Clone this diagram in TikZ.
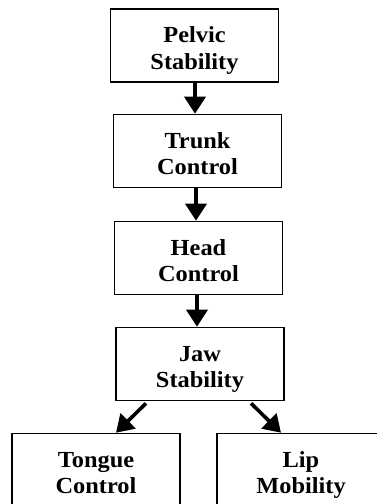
\documentclass[tikz,border=0pt]{standalone}
\usepackage{fontspec}
\setmainfont{Liberation Serif}[FakeStretch=1.06]
\usetikzlibrary{arrows.meta,calc}
% two centred lines with fixed struts so every box sets its text alike
\newcommand{\stagetext}[2]{\rule{0pt}{26.2pt}#1\\#2\rule[-5pt]{0pt}{5pt}}
\begin{document}
\begin{tikzpicture}[x=1pt,y=1pt,
  stagebox/.style={draw=black,line width=1.6pt,fill=white,
    minimum width=168pt,minimum height=73pt,inner sep=0pt,
    align=center,font=\fontsize{23}{26.5}\selectfont\bfseries},
  flow/.style={line width=3.6pt,-{Triangle[width=21pt,length=17pt]}}]
\useasboundingbox (0,0) rectangle (377,-504);
\clip (0,0) rectangle (377,-504);
% chain of stages
\node[stagebox] (pelvic) at (194.5,-45.5) {\stagetext{Pelvic}{Stability}};
\node[stagebox] (trunk)  at (197.5,-151)  {\stagetext{Trunk}{Control}};
\node[stagebox] (head)   at (198.5,-258)  {\stagetext{Head}{Control}};
\node[stagebox] (jaw)    at (200,-364)    {\stagetext{Jaw}{Stability}};
\node[stagebox] (tongue) at (96,-470)     {\stagetext{Tongue}{Control}};
\node[stagebox] (lip)    at (301,-470)    {\stagetext{Lip}{Mobility}};
% connectors
\draw[flow] (pelvic.south -| 195,0) -- (trunk.north -| 195,0);
\draw[flow] (trunk.south -| 196,0) -- (head.north -| 196,0);
\draw[flow] (head.south -| 197,0) -- (jaw.north -| 197,0);
\draw[flow] ($(jaw.south)+(-54,-2)$) -- ($(tongue.north)+(20,0)$);
\draw[flow] ($(jaw.south)+(51,-2)$) -- ($(lip.north)+(-20,0)$);
\end{tikzpicture}
\end{document}
